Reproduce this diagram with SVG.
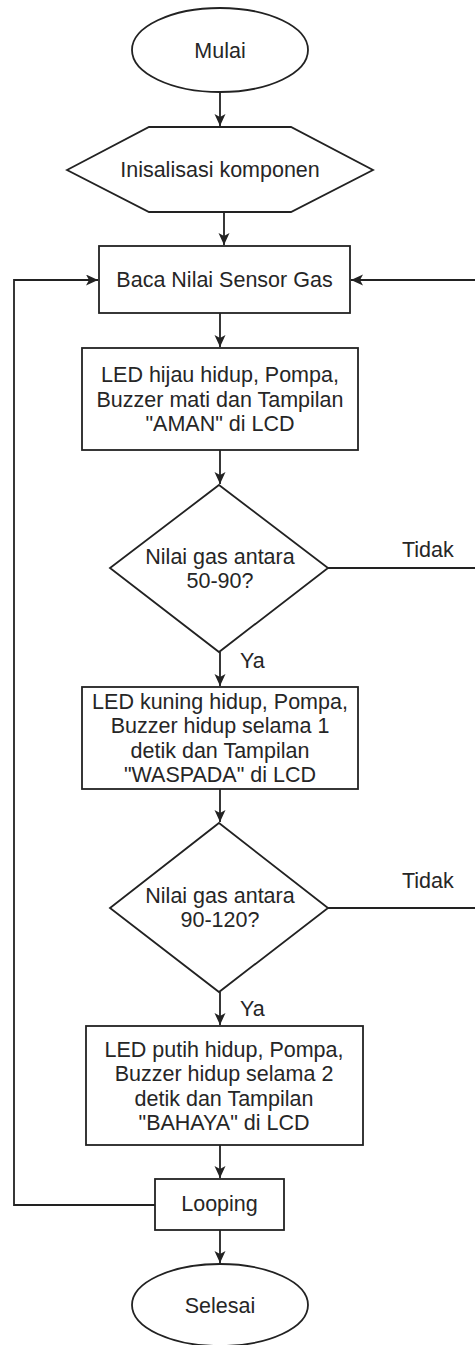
<svg xmlns="http://www.w3.org/2000/svg" width="475" height="1345" viewBox="0 0 475 1345">
<style>
.s{fill:#fff;stroke:#222;stroke-width:1.8}
.c{fill:none;stroke:#222;stroke-width:1.8}
text{font-family:"Liberation Sans",Arial,sans-serif;font-size:21.5px;fill:#262626;text-anchor:middle}
.l{text-anchor:start}
</style>
<defs>
<marker id="a" markerUnits="userSpaceOnUse" markerWidth="14" markerHeight="12" refX="12" refY="5.5" orient="auto">
<path d="M0,0 L12,5.5 L0,11 L3,5.5 z" fill="#222"/>
</marker>
</defs>
<rect width="475" height="1345" fill="#fff"/>
<g id="connectors">
<path class="c" d="M220,92 L220,126" marker-end="url(#a)"/>
<path class="c" d="M224,212 L224,245" marker-end="url(#a)"/>
<path class="c" d="M220,313 L220,347" marker-end="url(#a)"/>
<path class="c" d="M220,450 L220,484" marker-end="url(#a)"/>
<path class="c" d="M220,652 L220,686" marker-end="url(#a)"/>
<path class="c" d="M220,789 L220,822" marker-end="url(#a)"/>
<path class="c" d="M220,992 L220,1025" marker-end="url(#a)"/>
<path class="c" d="M220,1145 L220,1178" marker-end="url(#a)"/>
<path class="c" d="M220,1230 L220,1263" marker-end="url(#a)"/>
<path class="c" d="M155,1205 L14,1205 L14,280 L98,280" marker-end="url(#a)"/>
<path class="c" d="M328,568 L482,568 L482,280 L351,280" marker-end="url(#a)"/>
<path class="c" d="M328,908 L482,908 L482,568"/>
<text class="l" x="402" y="557">Tidak</text>
<text class="l" x="402" y="888">Tidak</text>
<text class="l" x="240" y="668">Ya</text>
<text class="l" x="240" y="1016">Ya</text>
</g>
<g id="mulai">
<ellipse class="s" cx="220" cy="50" rx="88" ry="42"/>
<text x="220" y="58">Mulai</text>
</g>
<g id="inisialisasi">
<polygon class="s" points="67,170 149,127 291,127 373,170 291,212 149,212"/>
<text x="220" y="177">Inisalisasi komponen</text>
</g>
<g id="baca">
<rect class="s" x="99" y="246" width="251" height="67"/>
<text x="224.5" y="287">Baca Nilai Sensor Gas</text>
</g>
<g id="aman">
<rect class="s" x="82" y="348" width="276" height="102"/>
<text x="220" y="382">LED hijau hidup, Pompa,</text>
<text x="220" y="406.5">Buzzer mati dan Tampilan</text>
<text x="220" y="431">"AMAN" di LCD</text>
</g>
<g id="cek1">
<polygon class="s" points="219,485 328,568 219,652 110,568"/>
<text x="220" y="563.5">Nilai gas antara</text>
<text x="220" y="588">50-90?</text>
</g>
<g id="waspada">
<rect class="s" x="82" y="687" width="276" height="102"/>
<text x="220" y="708.5">LED kuning hidup, Pompa,</text>
<text x="220" y="733">Buzzer hidup selama 1</text>
<text x="220" y="757.5">detik dan Tampilan</text>
<text x="220" y="782">"WASPADA" di LCD</text>
</g>
<g id="cek2">
<polygon class="s" points="219,823 328,908 219,992 110,908"/>
<text x="220" y="902.5">Nilai gas antara</text>
<text x="220" y="927">90-120?</text>
</g>
<g id="bahaya">
<rect class="s" x="86" y="1026" width="277" height="119"/>
<text x="224" y="1056.5">LED putih hidup, Pompa,</text>
<text x="224" y="1081">Buzzer hidup selama 2</text>
<text x="224" y="1105.5">detik dan Tampilan</text>
<text x="224" y="1130">"BAHAYA" di LCD</text>
</g>
<g id="looping">
<rect class="s" x="155" y="1179" width="129" height="51"/>
<text x="219.5" y="1211">Looping</text>
</g>
<g id="selesai">
<ellipse class="s" cx="220" cy="1305" rx="88" ry="41"/>
<text x="220" y="1313">Selesai</text>
</g>
</svg>
